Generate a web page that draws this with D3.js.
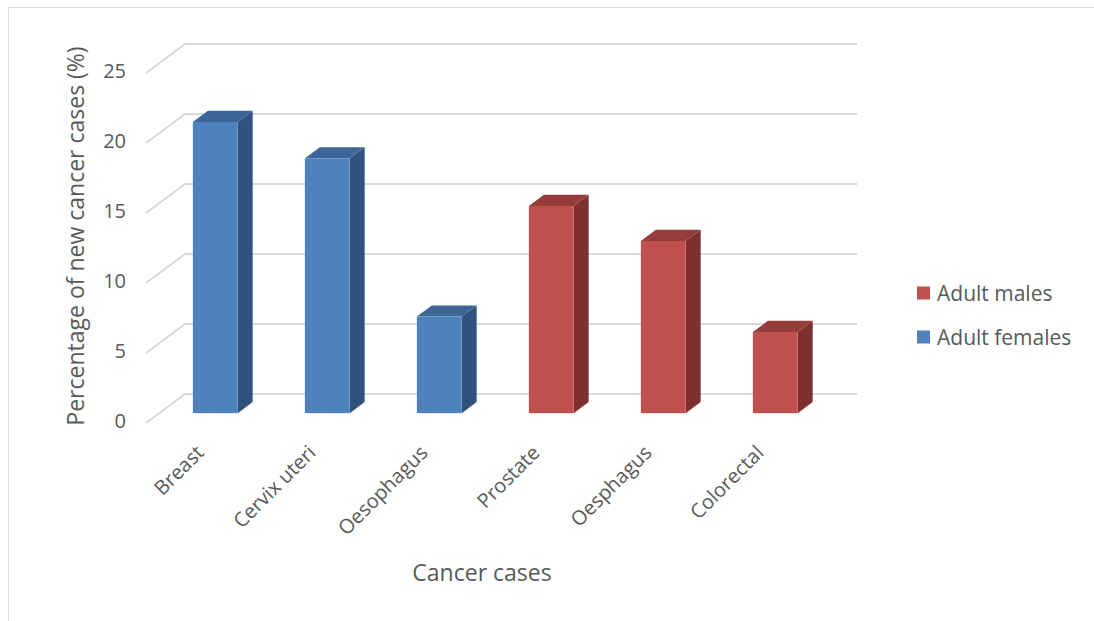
<!DOCTYPE html>
<html>
<head>
<meta charset="utf-8">
<script src="https://cdn.jsdelivr.net/npm/d3@7"></script>
<style>
  body { margin: 0; background: #fff; }
  text { font-family: "Open Sans", "Liberation Sans", sans-serif; fill: #595959; }
</style>
</head>
<body>
<div id="chart"></div>
<script>
// data
const categories = ["Breast", "Cervix uteri", "Oesophagus", "Prostate", "Oesphagus", "Colorectal"];
const values = [20.8, 18.2, 6.9, 14.8, 12.3, 5.8];
const groups = ["Adult females", "Adult females", "Adult females", "Adult males", "Adult males", "Adult males"];
const legendItems = ["Adult males", "Adult females"];
const yTicks = [0, 5, 10, 15, 20, 25];

const width = 1094, height = 621;
const depth = { dx: 39, dy: -29 };   // floor depth vector (oblique projection)
const barZ0 = 0.34, barZ1 = 0.725;   // bar sits in this slice of the depth

const colors = {
    "Adult females": { front: "#4f81bd", side: "#31527f", top: "#3d6698" },
    "Adult males":   { front: "#c0504d", side: "#7e302f", top: "#963c3a" }
};

var xScale = d3.scaleBand()
    .domain(categories)
    .range([146, 818])
    .paddingInner(0.6)
    .paddingOuter(0.3);

var yScale = d3.scaleLinear()
    .domain([0, 25])
    .range([423, 73]);

var svg = d3.select("#chart")
    .append("svg")
    .attr("width", width)
    .attr("height", height);

// chart border
svg.append("rect")
    .attr("x", 8.5).attr("y", 7.5)
    .attr("width", 1200).attr("height", 700)
    .attr("fill", "none")
    .attr("stroke", "#d9d9d9");

// gridlines: diagonal side wall + back wall
var x0 = xScale.range()[0], x1 = xScale.range()[1];
var grid = svg.append("g").attr("stroke", "#d9d9d9").attr("stroke-width", 2).attr("fill", "none");
yTicks.forEach(function (t) {
    var y = yScale(t);
    grid.append("path")
        .attr("d", "M" + x0 + "," + y + "L" + (x0 + depth.dx) + "," + (y + depth.dy)
            + "L" + (x1 + depth.dx) + "," + (y + depth.dy));
});

// y axis labels
var yAxis = svg.append("g")
    .attr("transform", "translate(126,-2)")
    .call(d3.axisLeft(yScale).tickValues(yTicks).tickSize(0).tickPadding(0));
yAxis.select(".domain").remove();
yAxis.selectAll("text")
    .style("font-size", "20px")
    .style("font-family", "\"Open Sans\", sans-serif")
    .attr("fill", "#595959");

// bars
var ox = depth.dx * barZ0, oy = depth.dy * barZ0;
var bx = depth.dx * (barZ1 - barZ0), by = depth.dy * (barZ1 - barZ0);
var bars = svg.append("g");
categories.forEach(function (c, i) {
    var col = colors[groups[i]];
    var left = xScale(c) + ox, right = left + xScale.bandwidth();
    var bottom = yScale(0) + oy, top = yScale(values[i]) + oy;
    var g = bars.append("g");
    // side face
    g.append("path")
        .attr("d", "M" + right + "," + bottom + "L" + right + "," + top
            + "L" + (right + bx) + "," + (top + by) + "L" + (right + bx) + "," + (bottom + by) + "Z")
        .attr("fill", col.side);
    // top face
    g.append("path")
        .attr("d", "M" + left + "," + top + "L" + right + "," + top
            + "L" + (right + bx) + "," + (top + by) + "L" + (left + bx) + "," + (top + by) + "Z")
        .attr("fill", col.top);
    // front face
    g.append("rect")
        .attr("x", left).attr("y", top)
        .attr("width", xScale.bandwidth())
        .attr("height", bottom - top)
        .attr("fill", col.front);
});

// x labels, rotated
svg.append("g").selectAll("text")
    .data(categories)
    .enter()
    .append("text")
    .attr("transform", function (d) {
        return "translate(" + (xScale(d) + xScale.bandwidth() / 2 + 3) + ",454)rotate(-45)";
    })
    .attr("text-anchor", "end")
    .style("font-size", "20px")
    .text(function (d) { return d; });

// axis titles
svg.append("text")
    .attr("x", 482).attr("y", 581)
    .attr("text-anchor", "middle")
    .style("font-size", "23px")
    .text("Cancer cases");

svg.append("text")
    .attr("transform", "translate(84,236)rotate(-90)")
    .attr("text-anchor", "middle")
    .style("font-size", "23px")
    .text("Percentage of new cancer cases (%)");

// legend
var legend = svg.append("g");
legendItems.forEach(function (name, i) {
    var y = 293 + i * 44;
    legend.append("rect")
        .attr("x", 917).attr("y", y - 6.5)
        .attr("width", 13).attr("height", 13)
        .attr("fill", colors[name].front);
    legend.append("text")
        .attr("x", 937).attr("y", y + 7.5)
        .style("font-size", "21px")
        .text(name);
});
</script>
</body>
</html>
